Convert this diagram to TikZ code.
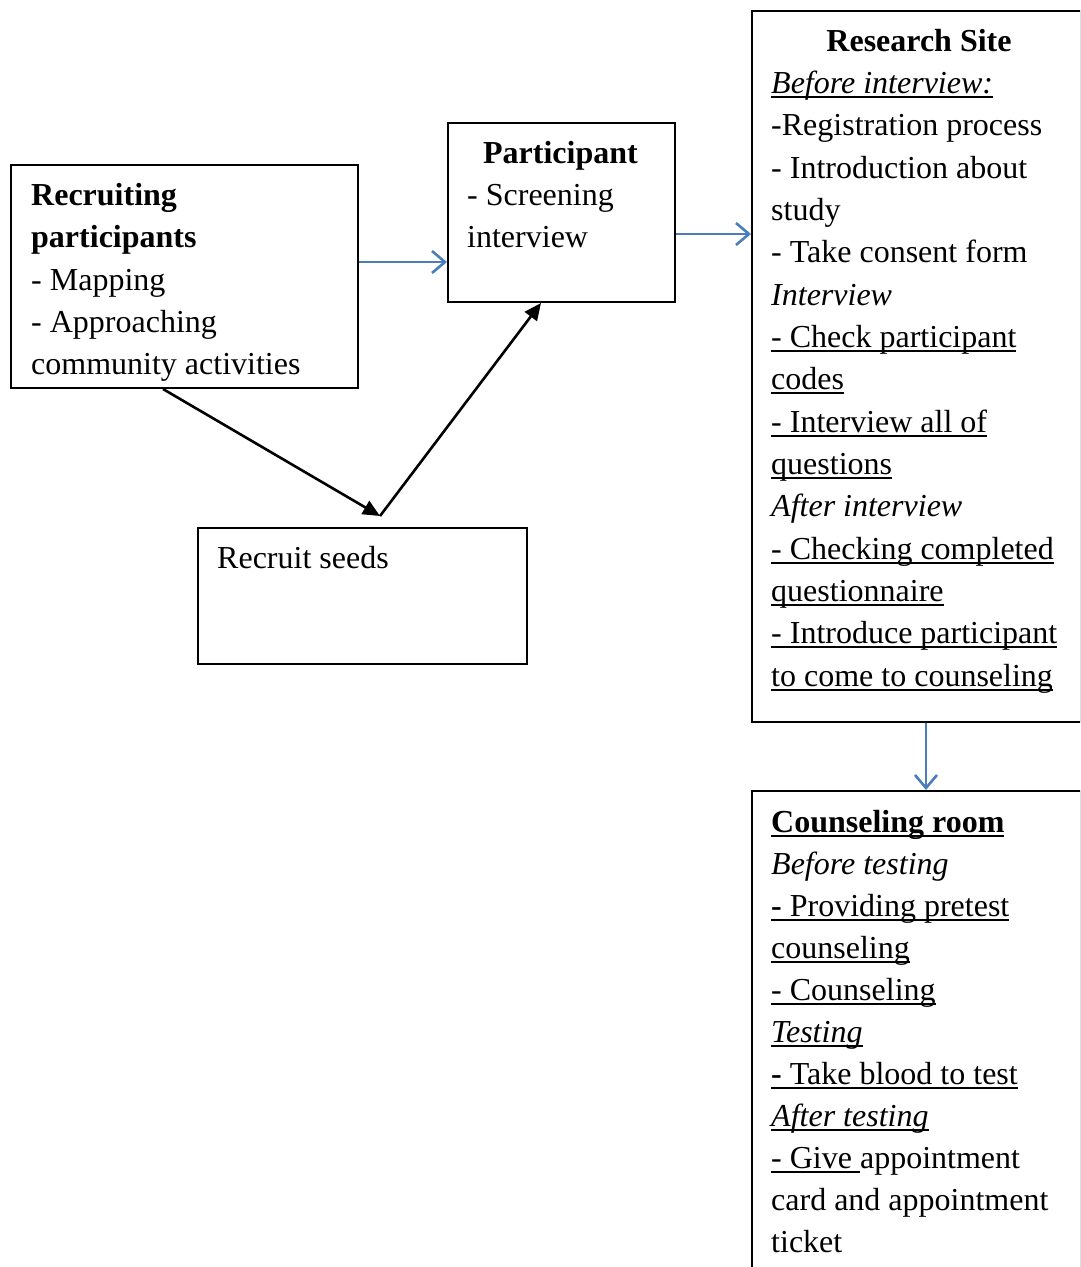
\documentclass[tikz,border=0pt]{standalone}
\usepackage{fontspec}
\setmainfont{Liberation Serif}
\usetikzlibrary{arrows.meta}
\definecolor{arrowblue}{RGB}{74,126,187}
\newsavebox\myulbox
\newcommand\myul[1]{\sbox\myulbox{#1}\rlap{\rule[-4.5pt]{\wd\myulbox}{2pt}}\usebox\myulbox}
\newcommand\tline[4]{\node[txt] (#1) at (#2,#3) {#4};}
\tikzset{
  txt/.style={anchor=base west, inner sep=0pt, font=\fontsize{32}{42}\selectfont},
  ctxt/.style={anchor=base, inner sep=0pt, font=\fontsize{32}{42}\selectfont},
  box/.style={draw, line width=2pt, inner sep=0pt, anchor=north west},
  bluearrow/.style={draw=arrowblue, line width=2.6pt, -{Straight Barb[length=13pt,width=22pt]}},
  blackarrow/.style={draw=black, line width=2.6pt, -{Triangle[length=17pt,width=15pt]}}
}
\begin{document}
\begin{tikzpicture}[x=1pt,y=-1pt]
\useasboundingbox (0,0) rectangle (1080,1267);
\clip (0,0) rectangle (1080,1267);
% boxes
\node[box, minimum width=347pt, minimum height=223pt] (rec) at (10,164) {};
\node[box, minimum width=227pt, minimum height=179pt] (part) at (447,122) {};
\node[box, minimum width=329pt, minimum height=136pt] (seeds) at (197,527) {};
\node[box, minimum width=329pt, minimum height=711pt] (rs) at (751,10) {};
\node[box, minimum width=329pt, minimum height=500pt] (cr) at (751,790) {};
% recruiting
\tline{rec1}{31}{205}{\textbf{Recruiting}}
\tline{rec2}{31}{247}{\textbf{participants}}
\tline{rec3}{31}{290}{- Mapping}
\tline{rec4}{31}{332}{- Approaching}
\tline{rec5}{31}{374}{community activities}
% participant
\node[ctxt] (part1) at (560.5,163) {\textbf{Participant}};
\tline{part2}{467}{205}{- Screening}
\tline{part3}{467}{247}{interview}
% seeds
\tline{seeds1}{217}{568}{Recruit seeds}
% research site
\node[ctxt] (rs1) at (919,51) {\textbf{Research Site}};
\tline{rs2}{771}{93.3}{\myul{\textit{Before interview:}}}
\tline{rs3}{771}{135.7}{-Registration process}
\tline{rs4}{771}{178}{- Introduction about}
\tline{rs5}{771}{220.3}{study}
\tline{rs6}{771}{262.7}{- Take consent form}
\tline{rs7}{771}{305}{\textit{Interview}}
\tline{rs8}{771}{347.3}{\myul{- Check participant}}
\tline{rs9}{771}{389.7}{\myul{codes}}
\tline{rs10}{771}{432}{\myul{- Interview all of}}
\tline{rs11}{771}{474.3}{\myul{questions}}
\tline{rs12}{771}{516.7}{\textit{After interview}}
\tline{rs13}{771}{559}{\myul{- Checking completed}}
\tline{rs14}{771}{601.3}{\myul{questionnaire}}
\tline{rs15}{771}{643.7}{\myul{- Introduce participant}}
\tline{rs16}{771}{686}{\myul{to come to counseling}}
% counseling room
\tline{cr1}{771}{832}{\myul{\textbf{Counseling room}}}
\tline{cr2}{771}{874}{\textit{Before testing}}
\tline{cr3}{771}{916}{\myul{\textbf{-} Providing pretest}}
\tline{cr4}{771}{958}{\myul{counseling}}
\tline{cr5}{771}{1000}{\myul{- Counseling}}
\tline{cr6}{771}{1042}{\myul{\textit{Testing}}}
\tline{cr7}{771}{1084}{\myul{\textbf{-} Take blood to test}}
\tline{cr8}{771}{1126}{\myul{\textit{After testing}}}
\tline{cr9}{771}{1168}{\myul{- Give }appointment}
\tline{cr10}{771}{1210}{card and appointment}
\tline{cr11}{771}{1252}{ticket}
% connectors
\coordinate (apex) at (380,516);
\draw[bluearrow] ([yshift=14.5pt]rec.east) -- ([yshift=14.5pt]rec.east -| part.west);
\draw[bluearrow] ([yshift=-21.5pt]part.east) -- ([yshift=-21.5pt]part.east -| rs.west);
\draw[bluearrow] ([xshift=9.5pt]rs.south) -- ([xshift=9.5pt]rs.south |- cr.north);
\draw[blackarrow] ([xshift=-21.5pt]rec.south) -- (apex);
\draw[blackarrow] (apex) -- ([xshift=-20.5pt]part.south);
\end{tikzpicture}
\end{document}
